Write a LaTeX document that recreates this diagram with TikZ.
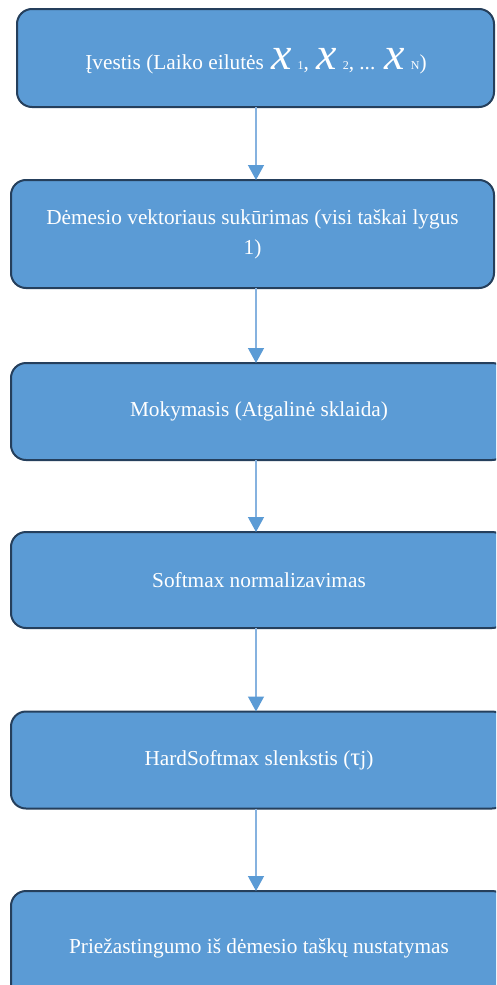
\documentclass[tikz,border=0pt]{standalone}
\usepackage{fontspec}
\setmainfont{Liberation Serif}
\usetikzlibrary{arrows.meta}
\definecolor{boxfill}{HTML}{5B9BD5}
\definecolor{boxline}{HTML}{253F5C}
\definecolor{connline}{HTML}{86B2DF}
% large italic series symbol with a small index on the baseline
\newcommand\seriesx[1]{\hspace{2pt}{\fontsize{46}{46}\selectfont\itshape x}\hspace{6pt}{\fontsize{12}{12}\selectfont #1}}
\tikzset{
  stepbox/.style={draw=boxline, line width=2pt, fill=boxfill, rounded corners=15pt,
    text=white, font=\fontsize{21.3}{30}\selectfont, inner sep=0pt, outer sep=0pt,
    align=center},
  conn/.style={draw=connline, line width=1.3pt,
    -{Triangle[width=16pt,length=15pt,color=boxfill]}}
}
\begin{document}
\begin{tikzpicture}[x=1pt,y=-1pt]
  \useasboundingbox (0,0) rectangle (496,985);
  \clip (0,0) rectangle (496,985);
  \fill[white] (0,0) rectangle (496,985);

  \node[stepbox, minimum width=477pt, minimum height=98pt] (b1) at (255.5,58) {};
  \node[text=white, font=\fontsize{21.3}{25.5}\selectfont, inner sep=0pt, anchor=base]
    (t1) at (256,69) {Įvestis (Laiko eilutės \seriesx{1}, \seriesx{2}, ... \seriesx{N})};
  \node[stepbox, minimum width=483pt, minimum height=108pt] (b2) at (252.5,234)
    {Dėmesio vektoriaus sukūrimas (visi taškai lygus\\1)};
  \node[stepbox, minimum width=496pt, minimum height=97pt] (b3) at (259,411.5)
    {Mokymasis (Atgalinė sklaida)};
  \node[stepbox, minimum width=496pt, minimum height=96pt] (b4) at (259,580)
    {Softmax normalizavimas};
  \node[stepbox, minimum width=496pt, minimum height=97pt] (b5) at (259,760)
    {HardSoftmax slenkstis ({\fontsize{25}{25}\selectfont τ}j)};
  \node[stepbox, minimum width=496pt, minimum height=114pt] (b6) at (259,948)
    {Priežastingumo iš dėmesio taškų nustatymas};

  \coordinate (ax) at (256,0);
  \draw[conn] (ax |- b1.south) -- (ax |- b2.north);
  \draw[conn] (ax |- b2.south) -- (ax |- b3.north);
  \draw[conn] (ax |- b3.south) -- (ax |- b4.north);
  \draw[conn] (ax |- b4.south) -- (ax |- b5.north);
  \draw[conn] (ax |- b5.south) -- (ax |- b6.north);
\end{tikzpicture}
\end{document}
